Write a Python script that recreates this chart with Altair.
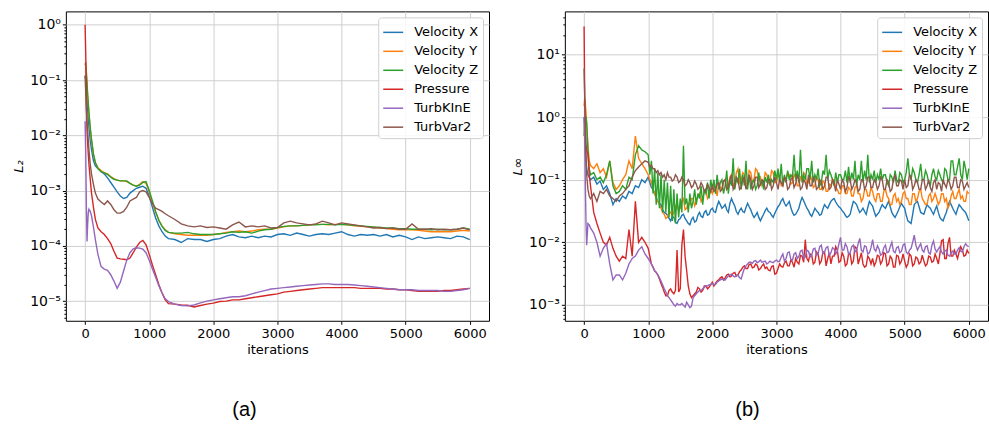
import altair as alt
import pandas as pd

SERIES = ["Velocity X", "Velocity Y", "Velocity Z", "Pressure", "TurbKInE", "TurbVar2"]
COLORS = ["#1f77b4", "#ff7f0e", "#2ca02c", "#d62728", "#9467bd", "#8c564b"]
X_TICKS = [0, 1000, 2000, 3000, 4000, 5000, 6000]

# ---------------- panel (a): L2 ----------------
L2_IT = [0, 10, 20, 30, 40, 50, 60, 80, 100, 130, 160, 200] + list(range(250, 1301, 50)) + list(range(1400, 6001, 100))

L2_VX = [0.12, 0.10, 0.07, 0.045, 0.03, 0.02, 0.014, 8e-3, 5.5e-3, 3.5e-3, 2.8e-3, 2.5e-3,
         2.2e-3, 2.0e-3, 1.7e-3, 1.4e-3, 1.15e-3, 9.5e-4, 8e-4, 7.2e-4, 7.5e-4, 9e-4, 1.0e-3,
         1.1e-3, 1.15e-3, 1.2e-3, 1.1e-3, 8e-4, 5e-4, 3.2e-4, 2.3e-4, 1.8e-4, 1.5e-4, 1.35e-4,
         1.3e-4, 1.15e-4, 1.35e-4, 1.3e-4, 1.3e-4, 1.2e-4, 1.3e-4, 1.35e-4, 1.5e-4, 1.6e-4,
         1.45e-4, 1.4e-4, 1.5e-4, 1.4e-4, 1.5e-4, 1.45e-4, 1.6e-4, 1.65e-4, 1.55e-4, 1.7e-4,
         1.6e-4, 1.5e-4, 1.6e-4, 1.65e-4, 1.6e-4, 1.7e-4, 1.8e-4, 1.6e-4, 1.5e-4, 1.6e-4,
         1.55e-4, 1.6e-4, 1.5e-4, 1.6e-4, 1.45e-4, 1.55e-4, 1.45e-4, 1.3e-4, 1.45e-4, 1.35e-4,
         1.4e-4, 1.45e-4, 1.4e-4, 1.35e-4, 1.5e-4, 1.45e-4, 1.3e-4]
L2_VY = [0.2, 0.18, 0.12, 0.08, 0.05, 0.035, 0.024, 0.013, 8e-3, 4.5e-3, 3.2e-3, 2.6e-3,
         2.3e-3, 2.1e-3, 2.0e-3, 1.8e-3, 1.65e-3, 1.55e-3, 1.5e-3, 1.5e-3, 1.45e-3, 1.35e-3, 1.25e-3,
         1.2e-3, 1.3e-3, 1.45e-3, 1.35e-3, 9.5e-4, 6e-4, 4e-4, 2.9e-4, 2.3e-4, 1.95e-4, 1.75e-4,
         1.65e-4, 1.6e-4, 1.55e-4, 1.55e-4, 1.55e-4, 1.55e-4, 1.6e-4, 1.65e-4, 1.75e-4, 1.8e-4,
         1.85e-4, 1.8e-4, 1.85e-4, 1.95e-4, 2.0e-4, 2.0e-4, 2.1e-4, 2.2e-4, 2.3e-4, 2.3e-4,
         2.35e-4, 2.4e-4, 2.45e-4, 2.45e-4, 2.4e-4, 2.45e-4, 2.45e-4, 2.4e-4, 2.3e-4, 2.25e-4,
         2.2e-4, 2.15e-4, 2.1e-4, 2.05e-4, 2.0e-4, 1.95e-4, 1.95e-4, 1.95e-4, 1.9e-4, 1.85e-4,
         1.8e-4, 1.8e-4, 1.8e-4, 1.8e-4, 1.85e-4, 1.9e-4, 1.85e-4]
L2_VZ = [0.19, 0.2, 0.14, 0.09, 0.055, 0.038, 0.026, 0.014, 8.5e-3, 4.6e-3, 3.2e-3, 2.5e-3,
         2.2e-3, 2.1e-3, 1.95e-3, 1.75e-3, 1.6e-3, 1.55e-3, 1.5e-3, 1.5e-3, 1.5e-3, 1.35e-3, 1.25e-3,
         1.2e-3, 1.25e-3, 1.4e-3, 1.45e-3, 1.0e-3, 6.5e-4, 4.2e-4, 2.9e-4, 2.25e-4, 1.9e-4, 1.75e-4,
         1.7e-4, 1.7e-4, 1.75e-4, 1.65e-4, 1.6e-4, 1.6e-4, 1.6e-4, 1.65e-4, 1.7e-4, 1.8e-4,
         1.75e-4, 1.8e-4, 1.7e-4, 1.85e-4, 1.95e-4, 2.0e-4, 2.15e-4, 2.25e-4, 2.3e-4, 2.3e-4,
         2.35e-4, 2.4e-4, 2.4e-4, 2.45e-4, 2.45e-4, 2.4e-4, 2.45e-4, 2.4e-4, 2.35e-4, 2.3e-4,
         2.25e-4, 2.2e-4, 2.15e-4, 2.1e-4, 2.1e-4, 2.05e-4, 2.05e-4, 2.0e-4, 2.0e-4, 2.0e-4,
         1.95e-4, 2.0e-4, 1.95e-4, 1.95e-4, 2.0e-4, 2.1e-4, 2.0e-4]
L2_P = [1.0, 0.3, 0.04, 0.012, 7e-3, 4.5e-3, 3e-3, 1.6e-3, 9e-4, 5e-4, 3e-4, 2.1e-4,
        1.8e-4, 1.6e-4, 1.35e-4, 1.1e-4, 8e-5, 6e-5, 5.8e-5, 5.7e-5, 5.6e-5, 6e-5, 7.5e-5,
        9.5e-5, 1.15e-4, 1.25e-4, 1.05e-4, 7e-5, 4.5e-5, 3e-5, 2e-5, 1.4e-5, 1.05e-5, 9e-6,
        8.8e-6, 8.5e-6, 8.4e-6, 7.8e-6, 8.3e-6, 8.8e-6, 9.2e-6, 9.8e-6, 1.0e-5, 1.05e-5,
        1.05e-5, 1.1e-5, 1.15e-5, 1.2e-5, 1.25e-5, 1.3e-5, 1.35e-5, 1.45e-5, 1.5e-5, 1.55e-5,
        1.6e-5, 1.65e-5, 1.7e-5, 1.75e-5, 1.75e-5, 1.75e-5, 1.75e-5, 1.75e-5, 1.75e-5, 1.7e-5,
        1.7e-5, 1.7e-5, 1.7e-5, 1.65e-5, 1.65e-5, 1.6e-5, 1.6e-5, 1.55e-5, 1.5e-5, 1.5e-5,
        1.5e-5, 1.5e-5, 1.55e-5, 1.55e-5, 1.6e-5, 1.65e-5, 1.7e-5]
L2_K = [0.018, 5e-3, 5e-4, 1.2e-4, 2.5e-4, 4e-4, 4.6e-4, 4.2e-4, 3.5e-4, 2.2e-4, 1.3e-4, 7e-5,
        4.2e-5, 3.8e-5, 3.6e-5, 3e-5, 2.3e-5, 1.7e-5, 2.2e-5, 3.5e-5, 5.5e-5, 7.5e-5, 8.8e-5,
        9.2e-5, 9.1e-5, 8.7e-5, 7.5e-5, 5.5e-5, 3.8e-5, 2.7e-5, 1.9e-5, 1.4e-5, 1.1e-5, 9.8e-6,
        8.8e-6, 8.3e-6, 8.2e-6, 8.5e-6, 9.3e-6, 1.0e-5, 1.05e-5, 1.1e-5, 1.15e-5, 1.2e-5,
        1.2e-5, 1.25e-5, 1.35e-5, 1.45e-5, 1.55e-5, 1.65e-5, 1.7e-5, 1.75e-5, 1.8e-5, 1.85e-5,
        1.9e-5, 1.95e-5, 2.0e-5, 2.05e-5, 2.05e-5, 2.0e-5, 2.0e-5, 2.0e-5, 1.95e-5, 1.9e-5,
        1.85e-5, 1.8e-5, 1.75e-5, 1.7e-5, 1.65e-5, 1.6e-5, 1.6e-5, 1.6e-5, 1.55e-5, 1.55e-5,
        1.55e-5, 1.55e-5, 1.5e-5, 1.5e-5, 1.55e-5, 1.6e-5, 1.7e-5]
L2_V2 = [0.12, 0.06, 0.03, 0.018, 0.012, 8e-3, 5.5e-3, 3e-3, 2e-3, 1.3e-3, 9e-4, 7e-4,
         6.2e-4, 5.6e-4, 6.5e-4, 5.6e-4, 4.5e-4, 3.9e-4, 3.9e-4, 4.2e-4, 5e-4, 6.5e-4, 7e-4,
         7.5e-4, 9.5e-4, 1.0e-3, 9.5e-4, 7.5e-4, 5.8e-4, 4.8e-4, 4.5e-4, 4.2e-4, 3.8e-4, 3.5e-4,
         3.0e-4, 2.5e-4, 2.3e-4, 2.2e-4, 2.3e-4, 2.15e-4, 2.2e-4, 2.1e-4, 2.0e-4, 2.4e-4,
         2.7e-4, 2.2e-4, 2.3e-4, 2.2e-4, 2.3e-4, 2.1e-4, 2.15e-4, 2.6e-4, 2.8e-4, 2.6e-4,
         2.5e-4, 2.4e-4, 2.5e-4, 2.8e-4, 2.6e-4, 2.4e-4, 2.6e-4, 2.5e-4, 2.4e-4, 2.3e-4,
         2.2e-4, 2.1e-4, 2.15e-4, 2.05e-4, 2.1e-4, 2.0e-4, 2.0e-4, 2.5e-4, 2.0e-4, 2.0e-4,
         2.05e-4, 1.95e-4, 2.0e-4, 1.95e-4, 2.0e-4, 2.1e-4, 1.95e-4]

# ---------------- panel (b): L-infinity ----------------
# iterations: 0,10,20,30,40,60,80 | 100..950 step 50 | 1000..6000 step 25
LI_IT = [0, 10, 20, 30, 40, 60, 80] + list(range(100, 1000, 50)) + list(range(1000, 6001, 25))

LI_VX = [1.0, 0.6, 0.3, 0.2, 0.15, 0.12, 0.11,
         0.1, 0.11, 0.085, 0.095, 0.07, 0.08, 0.06, 0.04, 0.05, 0.045,
         0.055, 0.05, 0.065, 0.06, 0.08, 0.075, 0.1, 0.09,
         0.11, 0.09, 0.075, 0.07, 0.06, 0.052, 0.045, 0.042, 0.04, 0.033, 0.03, 0.029, 0.027, 0.024, 0.022, 0.026, 0.025, 0.021, 0.02, 0.023,
         0.024, 0.027, 0.028, 0.024, 0.022, 0.02, 0.019, 0.023, 0.025, 0.021, 0.022, 0.027, 0.03, 0.026, 0.025, 0.03, 0.032, 0.027, 0.028, 0.033,
         0.035, 0.031, 0.03, 0.038, 0.045, 0.04, 0.035, 0.037, 0.04, 0.033, 0.03, 0.042, 0.05, 0.043, 0.038, 0.031, 0.028, 0.032, 0.035, 0.031,
         0.03, 0.036, 0.042, 0.037, 0.033, 0.028, 0.025, 0.027, 0.03, 0.025, 0.022, 0.025, 0.028, 0.032, 0.035, 0.031, 0.03, 0.027, 0.025, 0.029,
         0.033, 0.037, 0.04, 0.046, 0.05, 0.042, 0.038, 0.041, 0.045, 0.036, 0.03, 0.027, 0.028, 0.031, 0.035, 0.044, 0.052, 0.046, 0.04, 0.035,
         0.032, 0.028, 0.026, 0.03, 0.035, 0.032, 0.03, 0.027, 0.028, 0.034, 0.04, 0.037, 0.035, 0.04, 0.045, 0.048, 0.05, 0.044, 0.04, 0.037,
         0.035, 0.032, 0.03, 0.027, 0.025, 0.026, 0.028, 0.036, 0.045, 0.043, 0.04, 0.034, 0.03, 0.032, 0.035, 0.031, 0.028, 0.036, 0.045, 0.041,
         0.038, 0.031, 0.026, 0.028, 0.03, 0.035, 0.04, 0.037, 0.035, 0.04, 0.045, 0.037, 0.03, 0.027, 0.025, 0.028, 0.032, 0.037, 0.042, 0.038,
         0.035, 0.027, 0.022, 0.021, 0.02, 0.028, 0.04, 0.043, 0.045, 0.037, 0.03, 0.029, 0.028, 0.034, 0.04, 0.037, 0.035, 0.031, 0.028, 0.033,
         0.038, 0.03, 0.025, 0.023, 0.022, 0.026, 0.03, 0.038, 0.045, 0.04, 0.035, 0.031, 0.028, 0.034, 0.04, 0.037, 0.034, 0.032, 0.03, 0.026,
         0.022]
LI_VY = [1.5, 2.0, 1.6, 1.2, 0.8, 0.35, 0.2,
         0.17, 0.15, 0.18, 0.13, 0.15, 0.11, 0.2, 0.09, 0.07, 0.08,
         0.1, 0.12, 0.2, 0.15, 0.5, 0.22, 0.18, 0.15,
         0.12, 0.1, 0.09, 0.07, 0.06, 0.05, 0.045, 0.04, 0.035, 0.03, 0.028, 0.024, 0.025, 0.032, 0.03, 0.026, 0.03, 0.038, 0.04, 0.032,
         0.035, 0.045, 0.05, 0.033, 0.035, 0.042, 0.04, 0.05, 0.05, 0.038, 0.045, 0.055, 0.06, 0.045, 0.05, 0.065, 0.07, 0.05, 0.055, 0.068,
         0.06, 0.08, 0.07, 0.055, 0.09, 0.075, 0.07, 0.095, 0.1, 0.07, 0.08, 0.11, 0.12, 0.08, 0.09, 0.13, 0.15, 0.09, 0.1, 0.13,
         0.12, 0.085, 0.09, 0.14, 0.13, 0.09, 0.1, 0.15, 0.14, 0.1, 0.11, 0.08, 0.09, 0.13, 0.12, 0.09, 0.1, 0.14, 0.13, 0.09,
         0.09, 0.12, 0.11, 0.08, 0.08, 0.11, 0.1, 0.13, 0.12, 0.085, 0.09, 0.12, 0.11, 0.08, 0.08, 0.11, 0.1, 0.13, 0.12, 0.085,
         0.09, 0.12, 0.1, 0.075, 0.08, 0.11, 0.1, 0.07, 0.07, 0.095, 0.09, 0.065, 0.065, 0.085, 0.08, 0.1, 0.1, 0.075, 0.07, 0.06,
         0.06, 0.08, 0.08, 0.06, 0.06, 0.075, 0.07, 0.055, 0.055, 0.075, 0.08, 0.06, 0.06, 0.045, 0.05, 0.07, 0.07, 0.055, 0.055, 0.075,
         0.065, 0.05, 0.045, 0.06, 0.06, 0.045, 0.045, 0.065, 0.07, 0.055, 0.05, 0.04, 0.04, 0.055, 0.06, 0.045, 0.05, 0.04, 0.045, 0.06,
         0.065, 0.05, 0.05, 0.04, 0.04, 0.06, 0.06, 0.045, 0.05, 0.065, 0.07, 0.05, 0.045, 0.04, 0.04, 0.055, 0.06, 0.045, 0.05, 0.06,
         0.05, 0.04, 0.045, 0.06, 0.06, 0.045, 0.05, 0.035, 0.04, 0.055, 0.065, 0.05, 0.05, 0.06, 0.07, 0.05, 0.055, 0.045, 0.045, 0.065,
         0.06]
LI_VZ = [0.5, 0.8, 1.0, 1.0, 0.8, 0.3, 0.15,
         0.12, 0.13, 0.1, 0.11, 0.09, 0.12, 0.2, 0.08, 0.06, 0.065,
         0.08, 0.07, 0.11, 0.1, 0.25, 0.35, 0.3, 0.28,
         0.25, 0.12, 0.2, 0.06, 0.15, 0.04, 0.13, 0.035, 0.12, 0.03, 0.1, 0.03, 0.09, 0.025, 0.08, 0.022, 0.07, 0.02, 0.06, 0.025,
         0.05, 0.03, 0.35, 0.04, 0.05, 0.03, 0.06, 0.035, 0.045, 0.07, 0.04, 0.06, 0.05, 0.08, 0.04, 0.07, 0.06, 0.09, 0.05, 0.1,
         0.07, 0.1, 0.06, 0.12, 0.07, 0.09, 0.1, 0.06, 0.08, 0.14, 0.06, 0.1, 0.08, 0.22, 0.07, 0.1, 0.09, 0.15, 0.07, 0.12,
         0.08, 0.2, 0.07, 0.12, 0.07, 0.09, 0.1, 0.07, 0.08, 0.13, 0.08, 0.1, 0.07, 0.11, 0.09, 0.12, 0.08, 0.1, 0.09, 0.14,
         0.1, 0.15, 0.09, 0.18, 0.08, 0.12, 0.09, 0.14, 0.1, 0.12, 0.11, 0.25, 0.1, 0.14, 0.09, 0.3, 0.09, 0.12, 0.1, 0.15,
         0.15, 0.1, 0.2, 0.09, 0.12, 0.1, 0.15, 0.08, 0.09, 0.14, 0.12, 0.25, 0.1, 0.14, 0.12, 0.1, 0.08, 0.13, 0.09, 0.12,
         0.12, 0.1, 0.1, 0.14, 0.09, 0.16, 0.09, 0.13, 0.1, 0.2, 0.08, 0.12, 0.1, 0.2, 0.09, 0.14, 0.1, 0.25, 0.09, 0.12,
         0.1, 0.14, 0.09, 0.12, 0.1, 0.15, 0.1, 0.12, 0.12, 0.09, 0.08, 0.12, 0.11, 0.09, 0.14, 0.1, 0.09, 0.13, 0.12, 0.09,
         0.1, 0.13, 0.22, 0.12, 0.1, 0.15, 0.13, 0.1, 0.09, 0.12, 0.18, 0.1, 0.1, 0.14, 0.12, 0.09, 0.08, 0.12, 0.15, 0.11,
         0.1, 0.14, 0.12, 0.1, 0.09, 0.15, 0.14, 0.1, 0.1, 0.2, 0.2, 0.12, 0.12, 0.16, 0.22, 0.12, 0.1, 0.2, 0.15, 0.1,
         0.15]
LI_P = [28.0, 2.0, 0.6, 0.35, 0.3, 0.25, 0.12,
        0.08, 0.03, 0.02, 0.014, 0.01, 0.009, 0.012, 0.008, 0.006, 0.005,
        0.006, 0.0055, 0.016, 0.006, 0.045, 0.01, 0.012, 0.01,
        0.008, 0.006, 0.0045, 0.004, 0.0035, 0.0033, 0.003, 0.0026, 0.0022, 0.0019, 0.0016, 0.0014, 0.0014, 0.0017, 0.0018, 0.0016, 0.0015, 0.0017, 0.0075, 0.0016,
        0.0018, 0.009, 0.016, 0.006, 0.0035, 0.002, 0.0015, 0.0013, 0.0014, 0.0015, 0.0016, 0.0019, 0.0018, 0.0016, 0.0017, 0.002, 0.002, 0.0018, 0.0019, 0.0021,
        0.0023, 0.002, 0.0022, 0.0024, 0.0025, 0.0027, 0.0028, 0.0025, 0.0027, 0.003, 0.0031, 0.0028, 0.0029, 0.0032, 0.0033, 0.0029, 0.003, 0.0034, 0.0036, 0.004,
        0.0042, 0.0038, 0.0038, 0.0044, 0.0045, 0.0039, 0.004, 0.0045, 0.0043, 0.0036, 0.0038, 0.0042, 0.0045, 0.0038, 0.004, 0.0036, 0.0035, 0.0041, 0.0042, 0.0031,
        0.0032, 0.0038, 0.0045, 0.0041, 0.004, 0.0047, 0.005, 0.0042, 0.0042, 0.0052, 0.0048, 0.004, 0.0055, 0.0048, 0.0045, 0.0062, 0.006, 0.0048, 0.011, 0.0055,
        0.005, 0.0065, 0.0062, 0.0045, 0.0048, 0.007, 0.0065, 0.0045, 0.005, 0.007, 0.007, 0.0042, 0.0055, 0.0068, 0.0045, 0.006, 0.006, 0.0085, 0.0075, 0.0048,
        0.005, 0.0068, 0.006, 0.0042, 0.0045, 0.0065, 0.0065, 0.0045, 0.005, 0.0085, 0.008, 0.0045, 0.0055, 0.0068, 0.0045, 0.004, 0.0042, 0.006, 0.0055, 0.0045,
        0.0055, 0.0042, 0.0048, 0.0062, 0.006, 0.0045, 0.005, 0.0068, 0.0065, 0.0042, 0.0045, 0.006, 0.0055, 0.004, 0.004, 0.0062, 0.006, 0.0045, 0.005, 0.0065,
        0.005, 0.004, 0.0045, 0.0065, 0.006, 0.0042, 0.0045, 0.0058, 0.0055, 0.0045, 0.0048, 0.0062, 0.005, 0.0042, 0.0045, 0.006, 0.0058, 0.0048, 0.005, 0.0065,
        0.0055, 0.0045, 0.0065, 0.0105, 0.011, 0.0055, 0.0055, 0.0095, 0.012, 0.006, 0.006, 0.0075, 0.0065, 0.0055, 0.007, 0.0085, 0.0075, 0.006, 0.0062, 0.0075,
        0.0066]
LI_K = [1.0, 0.4, 0.08, 0.02, 0.009, 0.02, 0.019,
        0.017, 0.014, 0.01, 0.006, 0.008, 0.0095, 0.0045, 0.0025, 0.003, 0.003,
        0.0025, 0.0032, 0.0045, 0.0055, 0.006, 0.0075, 0.0085, 0.0065,
        0.0055, 0.005, 0.0045, 0.004, 0.0035, 0.0033, 0.003, 0.0027, 0.0024, 0.0021, 0.0018, 0.0016, 0.0014, 0.0013, 0.0012, 0.0011, 0.001, 0.00095, 0.00105, 0.001,
        0.001, 0.00105, 0.00098, 0.00092, 0.0011, 0.001, 0.0009, 0.00095, 0.0013, 0.0014, 0.0015, 0.0016, 0.0017, 0.0017, 0.0018, 0.0019, 0.002, 0.002, 0.0021, 0.0021,
        0.0022, 0.0021, 0.0021, 0.0023, 0.0024, 0.0025, 0.0026, 0.0025, 0.0025, 0.0027, 0.0029, 0.003, 0.0031, 0.0029, 0.0028, 0.0029, 0.003, 0.0027, 0.0026, 0.0032,
        0.0038, 0.0042, 0.0045, 0.0048, 0.0048, 0.0046, 0.005, 0.0051, 0.0047, 0.0049, 0.0052, 0.0048, 0.0049, 0.005, 0.0045, 0.0047, 0.005, 0.0048, 0.0047, 0.005,
        0.0052, 0.0049, 0.005, 0.0058, 0.0065, 0.005, 0.0055, 0.0068, 0.007, 0.0053, 0.0052, 0.0065, 0.0068, 0.0055, 0.006, 0.0072, 0.0075, 0.0056, 0.0058, 0.0075,
        0.0072, 0.0058, 0.0062, 0.0078, 0.008, 0.0062, 0.0065, 0.0085, 0.009, 0.0065, 0.007, 0.0082, 0.0085, 0.0062, 0.0068, 0.0082, 0.0078, 0.0065, 0.0072, 0.0095,
        0.012, 0.0075, 0.0075, 0.0095, 0.0085, 0.0065, 0.0068, 0.0085, 0.009, 0.007, 0.0075, 0.0095, 0.0115, 0.0075, 0.007, 0.0088, 0.0085, 0.0065, 0.0068, 0.0082,
        0.011, 0.0078, 0.0072, 0.0088, 0.0078, 0.0062, 0.0065, 0.0082, 0.009, 0.0068, 0.007, 0.0085, 0.01, 0.0072, 0.0068, 0.0082, 0.0085, 0.0068, 0.0072, 0.009,
        0.0095, 0.007, 0.0065, 0.0075, 0.008, 0.01, 0.013, 0.009, 0.0075, 0.0085, 0.0095, 0.0075, 0.007, 0.0085, 0.0088, 0.0068, 0.0065, 0.009, 0.0105, 0.0078,
        0.007, 0.0078, 0.0085, 0.007, 0.0065, 0.0072, 0.0075, 0.0062, 0.006, 0.0068, 0.0072, 0.0065, 0.0065, 0.0075, 0.0082, 0.0072, 0.007, 0.0085, 0.0095, 0.0088,
        0.0085]
LI_V2 = [6.0, 2.0, 0.6, 0.25, 0.12, 0.07, 0.055,
         0.05, 0.06, 0.045, 0.065, 0.06, 0.07, 0.055, 0.05, 0.045, 0.055,
         0.06, 0.07, 0.08, 0.11, 0.14, 0.16, 0.18, 0.2,
         0.19, 0.16, 0.17, 0.15, 0.15, 0.13, 0.14, 0.12, 0.13, 0.11, 0.12, 0.1, 0.13, 0.11, 0.11, 0.095, 0.1, 0.12, 0.11, 0.09,
         0.095, 0.11, 0.1, 0.08, 0.085, 0.1, 0.09, 0.075, 0.08, 0.095, 0.085, 0.07, 0.075, 0.09, 0.08, 0.065, 0.07, 0.085, 0.075, 0.065,
         0.08, 0.065, 0.07, 0.085, 0.09, 0.065, 0.07, 0.095, 0.1, 0.07, 0.075, 0.1, 0.12, 0.07, 0.08, 0.11, 0.1, 0.07, 0.075, 0.1,
         0.11, 0.07, 0.085, 0.12, 0.1, 0.07, 0.08, 0.11, 0.11, 0.075, 0.085, 0.1, 0.095, 0.07, 0.075, 0.1, 0.1, 0.07, 0.08, 0.11,
         0.09, 0.07, 0.1, 0.09, 0.08, 0.11, 0.1, 0.07, 0.075, 0.1, 0.11, 0.075, 0.085, 0.12, 0.1, 0.07, 0.075, 0.1, 0.09, 0.07,
         0.12, 0.08, 0.08, 0.11, 0.1, 0.07, 0.075, 0.1, 0.09, 0.07, 0.08, 0.11, 0.11, 0.07, 0.075, 0.1, 0.085, 0.065, 0.1, 0.085,
         0.07, 0.1, 0.09, 0.065, 0.075, 0.11, 0.1, 0.07, 0.08, 0.1, 0.09, 0.065, 0.07, 0.1, 0.1, 0.07, 0.08, 0.11, 0.11, 0.075,
         0.075, 0.1, 0.09, 0.07, 0.08, 0.11, 0.1, 0.07, 0.07, 0.1, 0.09, 0.065, 0.07, 0.1, 0.12, 0.08, 0.08, 0.1, 0.095, 0.07,
         0.1, 0.075, 0.08, 0.12, 0.11, 0.07, 0.08, 0.1, 0.09, 0.07, 0.07, 0.1, 0.1, 0.07, 0.08, 0.1, 0.075, 0.065, 0.09, 0.1,
         0.07, 0.09, 0.085, 0.065, 0.1, 0.085, 0.075, 0.1, 0.09, 0.07, 0.08, 0.11, 0.11, 0.075, 0.075, 0.1, 0.095, 0.07, 0.08, 0.09,
         0.075]

L2_DATA = dict(zip(SERIES, [L2_VX, L2_VY, L2_VZ, L2_P, L2_K, L2_V2]))
LI_DATA = dict(zip(SERIES, [LI_VX, LI_VY, LI_VZ, LI_P, LI_K, LI_V2]))


def frame(its, data):
    rows = []
    for name in SERIES:
        for it, v in zip(its, data[name]):
            rows.append({"iteration": it, "value": v, "series": name})
    return pd.DataFrame(rows)


def log_ticks(lo_exp, hi_exp, lo, hi):
    vals = []
    for e in range(lo_exp, hi_exp + 1):
        for m in range(1, 10):
            v = m * 10.0 ** e
            if lo <= v <= hi:
                vals.append(v)
    return vals


E = "round(log(datum.value)/LN10)"
MAJ = f"abs(log(datum.value)/LN10 - {E}) < 0.001"
LABEL = (f"{MAJ} ? '10' + ({E} < 0 ? '⁻' : '') + "
         f"['⁰','¹','²','³','⁴','⁵','⁶','⁷','⁸','⁹'][abs({E})] : ''")

FONT = "DejaVu Sans"


def panel(df, ydom, ytitle, caption, cap_dx, tickvals):
    return alt.Chart(df).mark_line(strokeWidth=1.4, clip=True).encode(
        x=alt.X("iteration:Q",
                scale=alt.Scale(domain=[-300, 6300], nice=False, zero=False),
                axis=alt.Axis(values=X_TICKS, title="iterations", format="d",
                              tickSize=3.5, labelPadding=3, titlePadding=3)),
        y=alt.Y("value:Q",
                scale=alt.Scale(type="log", domain=ydom, nice=False),
                axis=alt.Axis(values=tickvals, labelExpr=LABEL, title=ytitle,
                              titleFontStyle="italic", labelOverlap=False,
                              labelFontSize=14, labelPadding=2, titlePadding=4,
                              tickSize={"condition": {"test": MAJ, "value": 3.5}, "value": 2},
                              gridOpacity={"condition": {"test": MAJ, "value": 1}, "value": 0})),
        color=alt.Color("series:N", sort=SERIES,
                        scale=alt.Scale(domain=SERIES, range=COLORS),
                        legend=alt.Legend(title=None, orient="top-right", offset=6,
                                          symbolType="stroke", symbolStrokeWidth=1.5,
                                          symbolSize=400, labelFontSize=13, labelFont=FONT,
                                          labelOffset=10, rowPadding=1, padding=4,
                                          fillColor="rgba(255,255,255,0.85)",
                                          strokeColor="#d0d0d0", cornerRadius=3,
                                          labelLimit=200)),
    ).properties(
        width=424, height=310,
        title=alt.TitleParams(caption, orient="bottom", font="Liberation Sans",
                              fontSize=20, fontWeight="normal", offset=44, dx=cap_dx,
                              anchor="middle", color="black"),
    )


left = panel(frame(L2_IT, L2_DATA), [4.4e-6, 1.75], "L₂", "(a)", -33,
             log_ticks(-6, 0, 4.4e-6, 1.75))
right = panel(frame(LI_IT, LI_DATA), [5.56e-4, 49], "L∞", "(b)", -29,
              log_ticks(-4, 1, 5.56e-4, 49))

chart = alt.hconcat(left, right, spacing=21).resolve_legend(
    color="independent"
).resolve_scale(
    color="independent"
).properties(
    padding={"left": 12, "top": 9, "right": 0, "bottom": 0},
    background="white",
).configure_view(
    stroke="black", strokeWidth=1
).configure_axis(
    domain=False, grid=True, gridColor="#cfcfcf", gridWidth=1,
    tickColor="black", labelColor="black", titleColor="black",
    labelFont=FONT, titleFont=FONT, labelFontSize=13, titleFontSize=13,
    titleFontWeight="normal"
)

chart.save("out.html", embed_options={"renderer": "svg", "actions": False})
